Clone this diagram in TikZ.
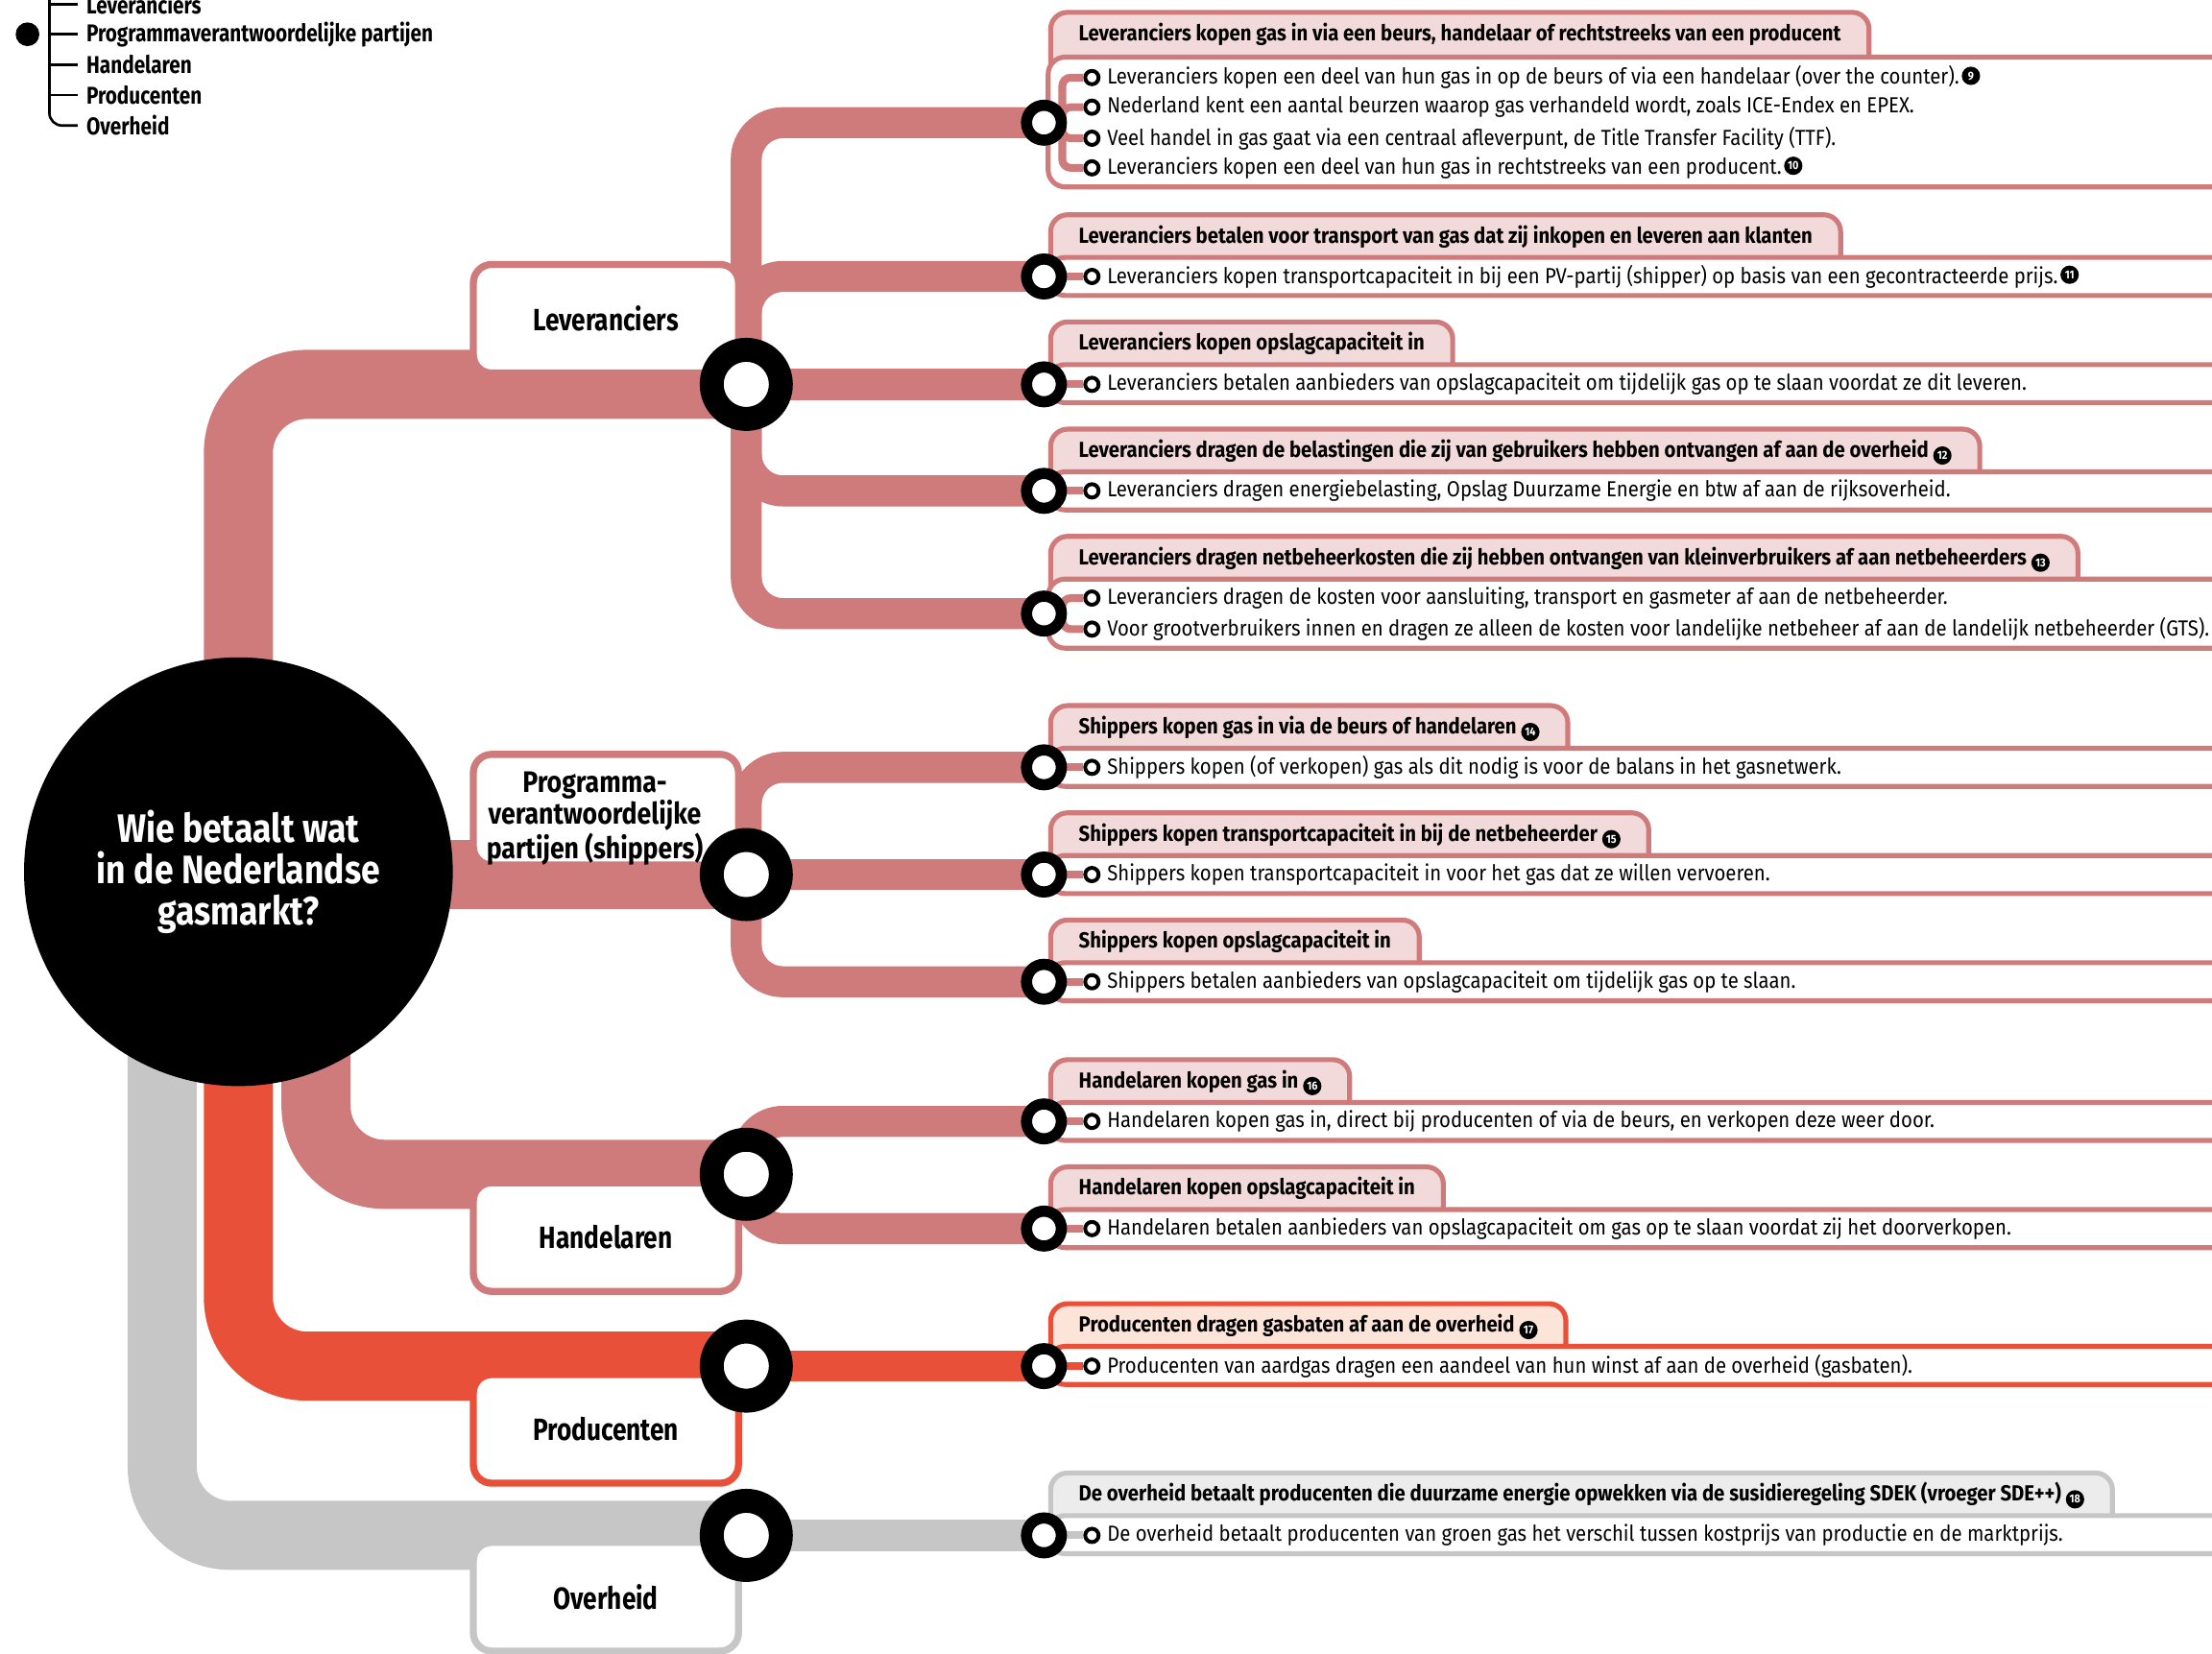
\documentclass[tikz,border=0pt]{standalone}
\usepackage{fontspec}
\setmainfont{Fira Sans}[FakeStretch=0.82]
\newfontfamily\rowfont{Fira Sans}[FakeStretch=0.895]
\newfontfamily\hubfont{Fira Sans}[FakeStretch=0.86]
\usepackage{tikz}
\usetikzlibrary{calc}
\definecolor{pinkline}{RGB}{208,123,123}
\definecolor{redline}{RGB}{232,80,58}
\definecolor{greyline}{RGB}{198,198,198}
\definecolor{pinktab}{RGB}{242,218,218}
\definecolor{redtab}{RGB}{252,228,217}
\definecolor{greytab}{RGB}{236,236,236}
\tikzstyle{mainpipe} = [line width=0.98cm, rounded corners=0.97cm]
\tikzstyle{subpipe} = [line width=0.44cm, rounded corners=0.52cm]
\tikzstyle{stub} = [line width=0.11cm, rounded corners=0.12cm]
\tikzstyle{hubnode} = [circle, fill=black, text=white, minimum size=6.08cm, inner sep=0pt, align=center, font=\hubfont\fontsize{16}{16.6}\selectfont\bfseries]
\tikzstyle{catbox} = [draw, fill=white, line width=0.1cm, rounded corners=0.26cm, minimum width=3.76cm, minimum height=1.54cm, inner sep=0pt, align=center, font=\fontsize{12.4}{14}\selectfont\bfseries]
\tikzstyle{bigring} = [circle, draw=black, fill=white, line width=0.34cm, minimum size=0.98cm, inner sep=0pt]
\tikzstyle{ring} = [circle, draw=black, fill=white, line width=0.158cm, minimum size=0.494cm, inner sep=0pt]
\tikzstyle{bullet} = [circle, draw=black, fill=white, line width=0.054cm, minimum size=0.19cm, inner sep=0pt]
\tikzstyle{tab} = [draw, line width=0.07cm, rounded corners=0.24cm, anchor=north west, inner xsep=0.4cm, inner ysep=0pt, text height=0.40cm, text depth=0.54cm, font=\rowfont\fontsize{8.8}{10}\selectfont\bfseries]
\tikzstyle{content} = [draw, fill=white, line width=0.07cm, rounded corners=0.24cm]
\tikzstyle{row} = [anchor=west, inner sep=0pt, font=\rowfont\fontsize{8.8}{10}\selectfont]
\tikzstyle{legendtext} = [anchor=west, inner xsep=0.12cm, font=\fontsize{9.8}{10}\selectfont\bfseries]
\tikzstyle{legendline} = [line width=0.036cm, rounded corners=0.18cm]
\newcommand{\nr}[1]{\tikz[baseline=-0.75ex]\node[circle, fill=black, text=white, inner sep=0pt, minimum size=7.4pt, font=\fontsize{4.7}{4.7}\selectfont\bfseries]{#1};}

\begin{document}
\begin{tikzpicture}[x=0.02cm, y=-0.02cm]
    \useasboundingbox (0,0) rectangle (1568,1172);

    % Legend
    \node[legendtext] (lgLev) at (55,3) {Leveranciers};
    \node[legendtext] (lgProg) at (55,24.3) {Programmaverantwoordelijke partijen};
    \node[legendtext] (lgHand) at (55,45.8) {Handelaren};
    \node[legendtext] (lgProd) at (55,67.4) {Producenten};
    \node[legendtext] (lgOver) at (55,89) {Overheid};
    \node[circle, fill=black, minimum size=0.336cm, inner sep=0pt] (lgDot) at (19.5,24.3) {};
    \coordinate (lgTop) at (35,-10);
    \draw[legendline] (lgTop) |- (lgOver.west);
    \draw[legendline] (lgLev.west -| lgTop) -- (lgLev.west);
    \draw[legendline] (lgProg.west -| lgTop) -- (lgProg.west);
    \draw[legendline] (lgHand.west -| lgTop) -- (lgHand.west);
    \draw[legendline] (lgProd.west -| lgTop) -- (lgProd.west);

    % Junctions
    \coordinate (hub) at (169,615);
    \coordinate (lev) at (529,272.5);
    \coordinate (prog) at (529,620);
    \coordinate (hand) at (529,832.5);
    \coordinate (prod) at (529,968.5);
    \coordinate (over) at (529,1088.5);
    \coordinate (handstart) at (224,700);
    \coordinate (overstart) at (115,700);
    \coordinate (s1) at (740,87);
    \coordinate (s2) at (740,196);
    \coordinate (s3) at (740,272.5);
    \coordinate (s4) at (740,348);
    \coordinate (s5) at (740,435);
    \coordinate (s6) at (740,544);
    \coordinate (s7) at (740,620);
    \coordinate (s8) at (740,696);
    \coordinate (s9) at (740,795);
    \coordinate (s10) at (740,871);
    \coordinate (s11) at (740,968.5);
    \coordinate (s12) at (740,1088.5);

    % Main pipes
    \draw[mainpipe, greyline] (overstart) |- (over);
    \draw[mainpipe, redline] (hub) |- (prod);
    \draw[mainpipe, pinkline] (handstart) |- (hand);
    \draw[mainpipe, pinkline] (hub |- prog) -- (prog);
    \draw[mainpipe, pinkline] (hub) |- (lev);

    % Branch pipes
    \draw[subpipe, pinkline] (lev) |- (s1);
    \draw[subpipe, pinkline] (lev) |- (s2);
    \draw[subpipe, pinkline] (lev) -- (s3);
    \draw[subpipe, pinkline] (lev) |- (s4);
    \draw[subpipe, pinkline] (lev) |- (s5);
    \draw[subpipe, pinkline] (prog) |- (s6);
    \draw[subpipe, pinkline] (prog) -- (s7);
    \draw[subpipe, pinkline] (prog) |- (s8);
    \draw[subpipe, pinkline] (hand) |- (s9);
    \draw[subpipe, pinkline] (hand) |- (s10);
    \draw[subpipe, redline] (prod) -- (s11);
    \draw[subpipe, greyline] (over) -- (s12);

    % Centre and actors
    \node[hubnode] (hubc) at (169,618) {Wie betaalt wat\\in de Nederlandse\\gasmarkt?};
    \node[catbox, draw=pinkline] (levbox) at (429.5,226) {Leveranciers};
    \node[catbox, draw=pinkline, font=\hubfont\fontsize{12}{12.5}\selectfont\bfseries] (progbox) at (429.5,574) {\rule{0pt}{15.5pt}Programma-\rule{9pt}{0pt}\\verantwoordelijke\rule{9pt}{0pt}\\partijen (shippers)\rule{9pt}{0pt}};
    \node[catbox, draw=pinkline] (handbox) at (429.5,877) {Handelaren};
    \node[catbox, draw=redline] (prodbox) at (429.5,1013) {Producenten};
    \node[catbox, draw=greyline] (overbox) at (429.5,1132) {Overheid};
    \node[bigring] (levring) at (lev) {};
    \node[bigring] (progring) at (prog) {};
    \node[bigring] (handring) at (hand) {};
    \node[bigring] (prodring) at (prod) {};
    \node[bigring] (overring) at (over) {};

    % Leveranciers 1
    \node[tab, draw=pinkline, fill=pinktab] (t1) at (743,7) {Leveranciers kopen gas in via een beurs, handelaar of rechtstreeks van een producent};
    \draw[content, draw=pinkline] (743,40.5) rectangle (1600,132.5);
    \node[bullet] (b1a) at (774,55) {};
    \node[bullet] (b1b) at (774,76) {};
    \node[bullet] (b1c) at (774,98) {};
    \node[bullet] (b1d) at (774,119) {};
    \coordinate (k1) at (753,87);
    \draw[stub, pinkline] (b1a) -| (k1) |- (b1d);
    \draw[stub, pinkline] (k1) |- (b1b);
    \draw[stub, pinkline] (k1) |- (b1c);
    \draw[stub, pinkline] (s1) -- (k1);
    \node[ring] (ring1) at (s1) {};
    \node[row] at (784.5,55) {Leveranciers kopen een deel van hun gas in op de beurs of via een handelaar (over the counter).\hspace{1pt}\nr{9}};
    \node[row] at (784.5,76) {Nederland kent een aantal beurzen waarop gas verhandeld wordt, zoals ICE-Endex en EPEX.};
    \node[row] at (784.5,98) {Veel handel in gas gaat via een centraal afleverpunt, de Title Transfer Facility (TTF).};
    \node[row] at (784.5,119) {Leveranciers kopen een deel van hun gas in rechtstreeks van een producent.\hspace{1pt}\nr{10}};

    % Leveranciers 2
    \node[tab, draw=pinkline, fill=pinktab] (t2) at (743,150.5) {Leveranciers betalen voor transport van gas dat zij inkopen en leveren aan klanten};
    \draw[content, draw=pinkline] (743,182.5) rectangle (1600,209.5);
    \node[bullet] (b2) at (774,196) {};
    \draw[stub, pinkline] (s2) -- (b2);
    \node[ring] (ring2) at (s2) {};
    \node[row] at (784.5,196) {Leveranciers kopen transportcapaciteit in bij een PV-partij (shipper) op basis van een gecontracteerde prijs.\hspace{1pt}\nr{11}};

    % Leveranciers 3
    \node[tab, draw=pinkline, fill=pinktab] (t3) at (743,226.5) {Leveranciers kopen opslagcapaciteit in};
    \draw[content, draw=pinkline] (743,258.5) rectangle (1600,285.5);
    \node[bullet] (b3) at (774,272.5) {};
    \draw[stub, pinkline] (s3) -- (b3);
    \node[ring] (ring3) at (s3) {};
    \node[row] at (784.5,272.5) {Leveranciers betalen aanbieders van opslagcapaciteit om tijdelijk gas op te slaan voordat ze dit leveren.};

    % Leveranciers 4
    \node[tab, draw=pinkline, fill=pinktab] (t4) at (743,302.5) {Leveranciers dragen de belastingen die zij van gebruikers hebben ontvangen af aan de overheid \nr{12}};
    \draw[content, draw=pinkline] (743,334.5) rectangle (1600,361.5);
    \node[bullet] (b4) at (774,348) {};
    \draw[stub, pinkline] (s4) -- (b4);
    \node[ring] (ring4) at (s4) {};
    \node[row] at (784.5,348) {Leveranciers dragen energiebelasting, Opslag Duurzame Energie en btw af aan de rijksoverheid.};

    % Leveranciers 5
    \node[tab, draw=pinkline, fill=pinktab] (t5) at (743,378.5) {Leveranciers dragen netbeheerkosten die zij hebben ontvangen van kleinverbruikers af aan netbeheerders \nr{13}};
    \draw[content, draw=pinkline] (743,410.5) rectangle (1600,459.5);
    \node[bullet] (b5a) at (774,424) {};
    \node[bullet] (b5b) at (774,446) {};
    \coordinate (k5) at (753,435);
    \draw[stub, pinkline] (b5a) -| (k5) |- (b5b);
    \draw[stub, pinkline] (s5) -- (k5);
    \node[ring] (ring5) at (s5) {};
    \node[row] at (784.5,424) {Leveranciers dragen de kosten voor aansluiting, transport en gasmeter af aan de netbeheerder.};
    \node[row] at (784.5,446) {Voor grootverbruikers innen en dragen ze alleen de kosten voor landelijke netbeheer af aan de landelijk netbeheerder (GTS).};

    % Shippers 1
    \node[tab, draw=pinkline, fill=pinktab] (t6) at (743,498.5) {Shippers kopen gas in via de beurs of handelaren \nr{14}};
    \draw[content, draw=pinkline] (743,530.5) rectangle (1600,557.5);
    \node[bullet] (b6) at (774,544) {};
    \draw[stub, pinkline] (s6) -- (b6);
    \node[ring] (ring6) at (s6) {};
    \node[row] at (784.5,544) {Shippers kopen (of verkopen) gas als dit nodig is voor de balans in het gasnetwerk.};

    % Shippers 2
    \node[tab, draw=pinkline, fill=pinktab] (t7) at (743,574.5) {Shippers kopen transportcapaciteit in bij de netbeheerder \nr{15}};
    \draw[content, draw=pinkline] (743,606.5) rectangle (1600,633.5);
    \node[bullet] (b7) at (774,620) {};
    \draw[stub, pinkline] (s7) -- (b7);
    \node[ring] (ring7) at (s7) {};
    \node[row] at (784.5,620) {Shippers kopen transportcapaciteit in voor het gas dat ze willen vervoeren.};

    % Shippers 3
    \node[tab, draw=pinkline, fill=pinktab] (t8) at (743,650.5) {Shippers kopen opslagcapaciteit in};
    \draw[content, draw=pinkline] (743,682.5) rectangle (1600,709.5);
    \node[bullet] (b8) at (774,696) {};
    \draw[stub, pinkline] (s8) -- (b8);
    \node[ring] (ring8) at (s8) {};
    \node[row] at (784.5,696) {Shippers betalen aanbieders van opslagcapaciteit om tijdelijk gas op te slaan.};

    % Handelaren 1
    \node[tab, draw=pinkline, fill=pinktab] (t9) at (743,749.5) {Handelaren kopen gas in \nr{16}};
    \draw[content, draw=pinkline] (743,781.5) rectangle (1600,808.5);
    \node[bullet] (b9) at (774,795) {};
    \draw[stub, pinkline] (s9) -- (b9);
    \node[ring] (ring9) at (s9) {};
    \node[row] at (784.5,795) {Handelaren kopen gas in, direct bij producenten of via de beurs, en verkopen deze weer door.};

    % Handelaren 2
    \node[tab, draw=pinkline, fill=pinktab] (t10) at (743,825.5) {Handelaren kopen opslagcapaciteit in};
    \draw[content, draw=pinkline] (743,857.5) rectangle (1600,884.5);
    \node[bullet] (b10) at (774,871) {};
    \draw[stub, pinkline] (s10) -- (b10);
    \node[ring] (ring10) at (s10) {};
    \node[row] at (784.5,871) {Handelaren betalen aanbieders van opslagcapaciteit om gas op te slaan voordat zij het doorverkopen.};

    % Producenten
    \node[tab, draw=redline, fill=redtab] (t11) at (743,922.5) {Producenten dragen gasbaten af aan de overheid \nr{17}};
    \draw[content, draw=redline] (743,954.5) rectangle (1600,981.5);
    \node[bullet] (b11) at (774,968.5) {};
    \draw[stub, redline] (s11) -- (b11);
    \node[ring] (ring11) at (s11) {};
    \node[row] at (784.5,968.5) {Producenten van aardgas dragen een aandeel van hun winst af aan de overheid (gasbaten).};

    % Overheid
    \node[tab, draw=greyline, fill=greytab] (t12) at (743,1042.5) {De overheid betaalt producenten die duurzame energie opwekken via de susidieregeling SDEK (vroeger SDE++) \nr{18}};
    \draw[content, draw=greyline] (743,1074.5) rectangle (1600,1101.5);
    \node[bullet] (b12) at (774,1088.5) {};
    \draw[stub, greyline] (s12) -- (b12);
    \node[ring] (ring12) at (s12) {};
    \node[row] at (784.5,1088.5) {De overheid betaalt producenten van groen gas het verschil tussen kostprijs van productie en de marktprijs.};
\end{tikzpicture}
\end{document}
